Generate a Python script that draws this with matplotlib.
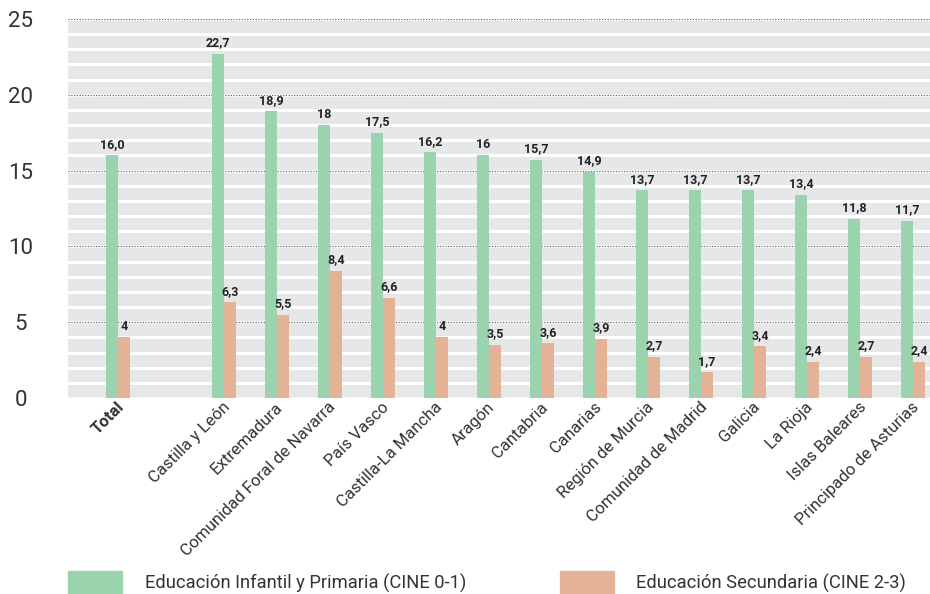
import matplotlib
matplotlib.use("Agg")
import matplotlib.pyplot as plt
from matplotlib.patches import Rectangle
import numpy as np

plt.rcParams['font.family'] = ['Liberation Sans Narrow', 'Roboto', 'DejaVu Sans']

categories = ['Total', '', 'Castilla y León', 'Extremadura', 'Comunidad Foral de Navarra',
              'País Vasco', 'Castilla-La Mancha', 'Aragón', 'Cantabria', 'Canarias',
              'Región de Murcia', 'Comunidad de Madrid', 'Galicia', 'La Rioja',
              'Islas Baleares', 'Principado de Asturias']
primaria = [16.0, None, 22.7, 18.9, 18, 17.5, 16.2, 16, 15.7, 14.9, 13.7, 13.7, 13.7, 13.4, 11.8, 11.7]
secundaria = [4, None, 6.3, 5.5, 8.4, 6.6, 4, 3.5, 3.6, 3.9, 2.7, 1.7, 3.4, 2.4, 2.7, 2.4]
prim_labels = ['16,0', '', '22,7', '18,9', '18', '17,5', '16,2', '16', '15,7', '14,9',
               '13,7', '13,7', '13,7', '13,4', '11,8', '11,7']
sec_labels = ['4', '', '6,3', '5,5', '8,4', '6,6', '4', '3,5', '3,6', '3,9',
              '2,7', '1,7', '3,4', '2,4', '2,7', '2,4']
series_names = ['Educación Infantil y Primaria (CINE 0-1)', 'Educación Secundaria (CINE 2-3)']

green = '#9bd3ae'
salmon = '#e4b397'

fig = plt.figure(figsize=(9.3, 5.94), dpi=100)
ax = fig.add_axes([68 / 930, 1 - 398 / 594, 1 - 68 / 930, (398 - 19) / 594])
ax.set_facecolor('#e6e7e9')

# striped background
for y in range(1, 25):
    ax.axhline(y, color='white', lw=2.2, zorder=0.5)
for y in range(0, 26, 5):
    ax.axhline(y, color='white', lw=2.2, zorder=0.5)
    ax.axhline(y, color='#666666', lw=0.9, ls=(0, (1, 1.2)), zorder=0.6)

x = np.arange(len(categories))
w = 0.225
for i in range(len(categories)):
    if primaria[i] is None:
        continue
    ax.bar(x[i] - w / 2, primaria[i], w, color=green, zorder=2)
    ax.bar(x[i] + w / 2, secundaria[i], w, color=salmon, zorder=2)
    ax.text(x[i] - w / 2, primaria[i] + 0.3, prim_labels[i], ha='center', va='bottom',
            fontsize=9, fontweight='bold', color='#222222')
    ax.text(x[i] + w / 2, secundaria[i] + 0.3, sec_labels[i], ha='center', va='bottom',
            fontsize=9, fontweight='bold', color='#222222')

ax.set_xlim(-0.94, 15.32)
ax.set_ylim(0, 25)
ax.set_yticks(range(0, 26, 5))
ax.tick_params(axis='y', length=0, pad=34, labelsize=16, labelcolor='#333333')
for lab in ax.get_yticklabels():
    lab.set_ha('center')
ax.set_xticks(x - 0.03)
ax.set_xticklabels(categories, rotation=45, ha='right', va='top', rotation_mode='anchor',
                   fontsize=12, color='#333333')
ax.get_xticklabels()[0].set_fontweight('bold')
ax.tick_params(axis='x', length=0, pad=1)
for s in ax.spines.values():
    s.set_visible(False)

# legend drawn at the bottom of the figure
fig.patches.append(Rectangle((68 / 930, 0), 54 / 930, 23 / 594, transform=fig.transFigure,
                             color=green, zorder=3))
fig.patches.append(Rectangle((560 / 930, 0), 54 / 930, 23 / 594, transform=fig.transFigure,
                             color=salmon, zorder=3))
fig.text(145 / 930, 1 - 583 / 594, series_names[0], ha='left', va='center', fontsize=13.2, color='#333333')
fig.text(636 / 930, 1 - 583 / 594, series_names[1], ha='left', va='center', fontsize=13.2, color='#333333')

fig.savefig('out.png', dpi=100)
